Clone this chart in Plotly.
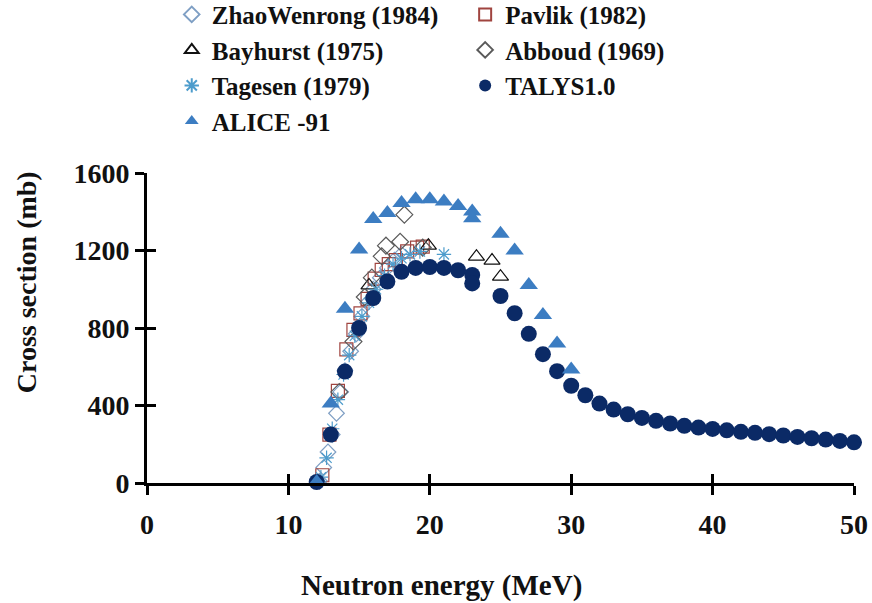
import plotly.graph_objects as go

# ---------------- data ----------------
zhao_E = [12.2, 12.5, 12.8, 13.1, 13.4, 13.7, 14.0, 14.4, 14.8, 15.2, 15.6, 16.0, 16.5, 17.0, 17.5, 18.0]
zhao_XS = [10, 80, 160, 250, 360, 470, 580, 680, 770, 860, 930, 1000, 1060, 1110, 1150, 1180]

pavlik_E = [12.4, 12.9, 13.5, 14.1, 14.6, 15.1, 15.6, 16.1, 16.6, 17.1, 17.6, 18.4, 19.1, 19.5]
pavlik_XS = [40, 250, 475, 690, 790, 875, 950, 1055, 1100, 1130, 1150, 1195, 1215, 1220]

bayhurst_E = [15.7, 19.9, 23.3, 24.4, 25.0]
bayhurst_XS = [1020, 1225, 1168, 1148, 1065]

abboud_E = [13.6, 14.6, 15.4, 15.9, 16.6, 16.9, 17.9, 18.2, 19.5]
abboud_XS = [470, 730, 960, 1060, 1170, 1225, 1245, 1385, 1215]

tagesen_E = [12.3, 12.7, 13.1, 13.5, 13.9, 14.3, 14.7, 15.2, 15.7, 16.2, 16.8, 17.4, 18.0, 18.6, 19.3, 21.0]
tagesen_XS = [30, 130, 280, 430, 560, 660, 760, 860, 930, 1000, 1070, 1130, 1160, 1180, 1195, 1180]

talys_E = [12, 13, 14, 15, 16, 17, 18, 19, 20, 21, 22, 23, 23, 25, 26, 27, 28, 29, 30,
           31, 32, 33, 34, 35, 36, 37, 38, 39, 40, 41, 42, 43, 44, 45, 46, 47, 48, 49, 50]
talys_XS = [5, 250, 575, 800, 955, 1040, 1090, 1110, 1115, 1110, 1098, 1074, 1030, 965, 876, 770, 665, 577, 502,
            453, 410, 379, 355, 336, 321, 307, 295, 286, 279, 272, 264, 259, 252, 245, 238, 231, 224, 217, 210]

alice_E = [12, 13, 14, 15, 16, 17, 18, 19, 20, 21, 22, 23, 23, 25, 26, 27, 28, 29, 30]
alice_XS = [5, 410, 900, 1205, 1362, 1393, 1445, 1465, 1465, 1453, 1430, 1401, 1367, 1286, 1200, 1022, 867, 720, 586]

x_ticks = [0, 10, 20, 30, 40, 50]
y_ticks = [0, 400, 800, 1200, 1600]

x_title = "Neutron energy (MeV)"
y_title = "Cross section (mb)"

FONT = "Liberation Serif"

fig = go.Figure()

def add(name, E, XS, symbol, color, size, legend, width=1.2):
    fig.add_trace(go.Scatter(
        x=E, y=XS, mode="markers", name=name, legend=legend,
        marker=dict(symbol=symbol, size=size, color=color,
                    line=dict(color=color, width=width)),
        cliponaxis=False,
    ))

add("ZhaoWenrong (1984)", zhao_E, zhao_XS, "diamond-open", "#7f9fc4", 12, "legend")
add("Pavlik (1982)", pavlik_E, pavlik_XS, "square-open", "#a0443f", 13, "legend2")
add("Bayhurst (1975)", bayhurst_E, bayhurst_XS, "triangle-up-open", "#111111", 14, "legend")
add("Abboud (1969)", abboud_E, abboud_XS, "diamond-open", "#5a5a5a", 13, "legend2")
add("Tagesen (1979)", tagesen_E, tagesen_XS, "asterisk-open", "#4d9ccc", 12, "legend")
add("TALYS1.0", talys_E, talys_XS, "circle", "#0b2a66", 16, "legend2", width=0)
add("ALICE -91", alice_E, alice_XS, "triangle-up", "#3c7dc2", 16, "legend", width=0)

# empty trace to carry the overlay axes (cross ticks)
fig.add_trace(go.Scatter(x=[], y=[], xaxis="x2", yaxis="y2", showlegend=False))

tickfont = dict(family=FONT, size=28, color="#111111", weight="bold")
legfont = dict(family=FONT, size=25, color="#111111", weight="bold")
fig.update_layout(
    width=872, height=603,
    margin=dict(l=147, r=18, t=173, b=120, autoexpand=False),
    paper_bgcolor="white", plot_bgcolor="white",
    font=dict(family=FONT, color="#111111"),
    xaxis=dict(range=[0, 50], tickvals=x_ticks, ticks="outside", ticklen=9, tickwidth=3,
               tickcolor="black", showline=True, linecolor="black", linewidth=3,
               showgrid=False, zeroline=False, tickfont=tickfont,
               ticklabelstandoff=5),
    yaxis=dict(range=[0, 1600], tickvals=y_ticks, ticks="outside", ticklen=9, tickwidth=3,
               tickcolor="black", showline=True, linecolor="black", linewidth=3,
               showgrid=False, zeroline=False, tickfont=tickfont,
               ticklabelstandoff=0),
    xaxis2=dict(overlaying="x", matches="x", anchor="y2", range=[0, 50], tickvals=x_ticks,
                ticks="inside", ticklen=9, tickwidth=3, tickcolor="black",
                showticklabels=False, showline=False, showgrid=False, zeroline=False),
    yaxis2=dict(overlaying="y", matches="y", anchor="x2", range=[0, 1600], tickvals=y_ticks,
                ticks="inside", ticklen=9, tickwidth=3, tickcolor="black",
                showticklabels=False, showline=False, showgrid=False, zeroline=False),
    legend=dict(x=0.035, y=1.585, xanchor="left", yanchor="top",
                font=legfont, itemsizing="constant",
                bgcolor="rgba(0,0,0,0)", tracegroupgap=0),
    legend2=dict(x=0.45, y=1.585, xanchor="left", yanchor="top",
                 font=legfont, itemsizing="constant",
                 bgcolor="rgba(0,0,0,0)", tracegroupgap=0),
    annotations=[
        dict(text=x_title, xref="paper", yref="paper", x=0.416, y=-0.33,
             xanchor="center", yanchor="middle", showarrow=False,
             font=dict(family=FONT, size=29, color="#111111", weight="bold")),
        dict(text=y_title, xref="paper", yref="paper", x=-0.171, y=0.648,
             xanchor="center", yanchor="middle", showarrow=False, textangle=-90,
             font=dict(family=FONT, size=28, color="#111111", weight="bold")),
    ],
)

fig.write_html("out.html")
